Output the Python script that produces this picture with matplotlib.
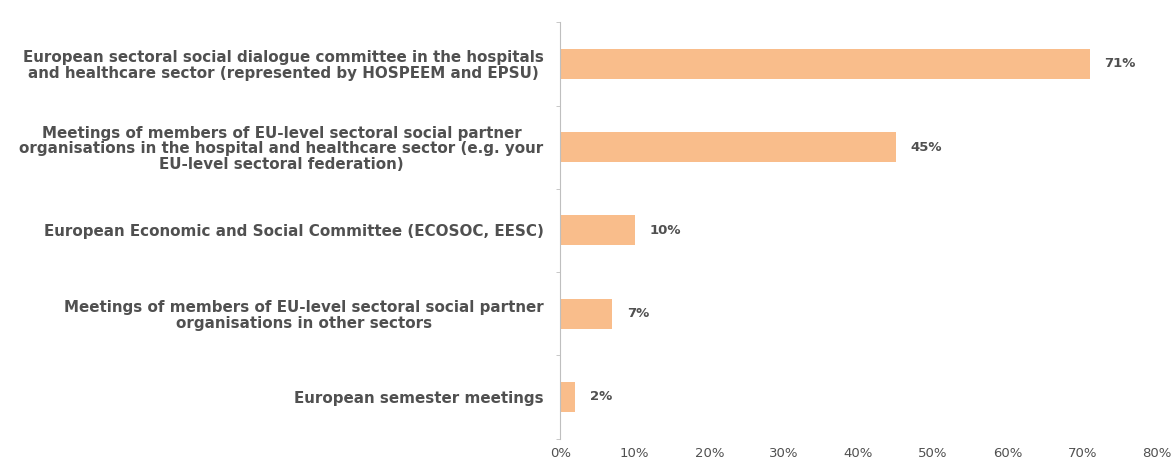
import matplotlib

matplotlib.use("Agg")
import matplotlib.pyplot as plt
import numpy as np

categories = [
    "European sectoral social dialogue committee in the hospitals\nand healthcare sector (represented by HOSPEEM and EPSU)",
    "Meetings of members of EU-level sectoral social partner\norganisations in the hospital and healthcare sector (e.g. your\nEU-level sectoral federation)",
    "European Economic and Social Committee (ECOSOC, EESC)",
    "Meetings of members of EU-level sectoral social partner\norganisations in other sectors",
    "European semester meetings",
]
shares = [71, 45, 10, 7, 2]
x_ticks = [0, 10, 20, 30, 40, 50, 60, 70, 80]

BAR_COLOR = "#F9BD8B"
TEXT_COLOR = "#505050"
AXIS_COLOR = "#BFBFBF"

fig = plt.figure(figsize=(11.72, 4.63), dpi=100)
ax = fig.add_axes([0.478, 0.0527, 0.509, 0.899])

pos = np.arange(len(categories))
ax.barh(pos, shares, height=0.36, color=BAR_COLOR)
for y, v in zip(pos, shares):
    ax.text(v + 2.0, y, f"{v}%", va="center", ha="left", fontsize=9.5,
            fontweight="bold", color=TEXT_COLOR)

ax.set_xlim(0, 80)
ax.set_ylim(len(categories) - 0.5, -0.5)
ax.set_xticks(x_ticks)
ax.set_xticklabels([f"{t}%" for t in x_ticks], fontsize=9.5, color=TEXT_COLOR)
ax.tick_params(axis="x", length=0, pad=6)

ax.set_yticks(pos)
ax.set_yticklabels(categories, fontsize=10.9, color=TEXT_COLOR, fontweight="semibold",
                   ha="right", multialignment="center", linespacing=1.03)
ax.tick_params(axis="y", length=0, pad=12)
ax.set_yticks(np.arange(-0.5, len(categories), 1.0), minor=True)
ax.tick_params(axis="y", which="minor", length=3, color=AXIS_COLOR)

for spine in ["top", "right", "bottom"]:
    ax.spines[spine].set_visible(False)
ax.spines["left"].set_color(AXIS_COLOR)
ax.spines["left"].set_linewidth(0.8)

fig.savefig("out.png", dpi=100)
